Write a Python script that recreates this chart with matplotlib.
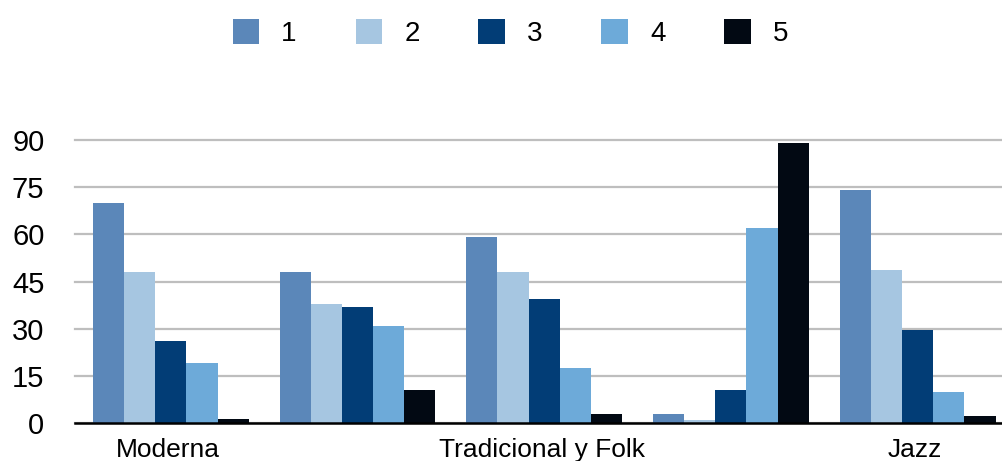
import matplotlib
matplotlib.use("Agg")
import matplotlib.pyplot as plt
import numpy as np

plt.rcParams['font.family'] = ['Liberation Sans', 'DejaVu Sans']

# Categories along the x axis (only every other one carries a visible name)
categories = ["Moderna", "", "Tradicional y Folk", "", "Jazz"]
series_names = ["1", "2", "3", "4", "5"]

s1 = [70, 48, 59, 3, 74]
s2 = [48, 38, 48, 1, 48.5]
s3 = [26, 37, 39.5, 10.5, 29.5]
s4 = [19, 31, 17.5, 62, 10]
s5 = [1.2, 10.5, 3, 89, 2.3]
series = [s1, s2, s3, s4, s5]

colors = ["#5B87B9", "#A6C6E1", "#023D76", "#6DAAD9", "#020913"]
yticks = [0, 15, 30, 45, 60, 75, 90]

fig = plt.figure(figsize=(10.03, 4.61), dpi=100)
ax = fig.add_axes([75 / 1003, 1 - 423 / 461, 1 - 75 / 1003, (423 - 140) / 461])

x = np.arange(len(categories))
w = 0.167
shift = 0.013
for k, (vals, col, name) in enumerate(zip(series, colors, series_names)):
    ax.bar(x + (k - 2) * w + shift, vals, width=w, color=col, label=name,
           zorder=2, linewidth=0)

ax.set_xlim(-0.5, -0.5 + (1003 - 75) / 186.7)
ax.set_ylim(0, 90)
ax.set_yticks(yticks)
ax.set_yticklabels([str(t) for t in yticks], fontsize=21)
ax.set_xticks(x)
ax.set_xticklabels(categories, fontsize=19)
ax.tick_params(axis='y', length=0, pad=22)
ax.tick_params(axis='x', length=0, pad=11)

ax.yaxis.grid(True, color="#BEBEBE", linewidth=1.6, zorder=0)
for gl in ax.get_ygridlines():
    gl.set_clip_on(False)
ax.set_axisbelow(True)
for side in ["top", "right", "left"]:
    ax.spines[side].set_visible(False)
ax.spines["bottom"].set_color("black")
ax.spines["bottom"].set_linewidth(1.8)
ax.spines["bottom"].set_zorder(3)

fig.legend(loc="upper center", bbox_to_anchor=(0.509, 1.0), ncol=5,
           frameon=False, fontsize=20, handlelength=0.97, handleheight=1.0,
           handletextpad=0.78, columnspacing=2.12, borderaxespad=0.3)

fig.savefig("out.png", dpi=100)
